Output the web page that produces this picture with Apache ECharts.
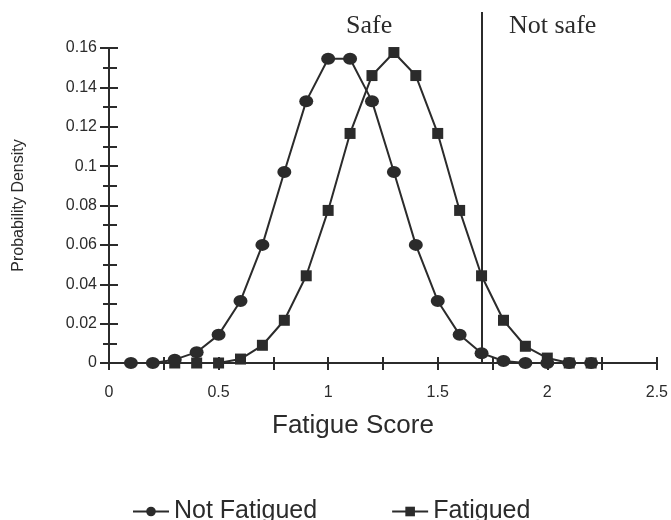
<!DOCTYPE html>
<html><head><meta charset="utf-8">
<script src="https://cdn.jsdelivr.net/npm/echarts@6/dist/echarts.min.js"></script>
<style>html,body{margin:0;padding:0;background:#fff}#c{width:671px;height:520px}</style>
</head><body><div id="c"></div>
<script>
const nfX = [0.1,0.2,0.3,0.4,0.5,0.6,0.7,0.8,0.9,1.0,1.1,1.2,1.3,1.4,1.5,1.6,1.7,1.8,1.9,2.0,2.1,2.2];
const notFatigued = [0,0,0.0017,0.0055,0.0143,0.0315,0.06,0.097,0.133,0.1545,0.1545,0.133,0.097,0.06,0.0315,0.0143,0.005,0.001,0,0,0,0];
const fX = [0.3,0.4,0.5,0.6,0.7,0.8,0.9,1.0,1.1,1.2,1.3,1.4,1.5,1.6,1.7,1.8,1.9,2.0,2.1,2.2];
const fatigued = [0,0,0,0.002,0.009,0.0217,0.0443,0.0775,0.1166,0.146,0.1577,0.146,0.1166,0.0775,0.0443,0.0217,0.0085,0.0025,0,0];
const threshold = 1.7;
const seriesNames = ['Not Fatigued','Fatigued'];
const zoneLabels = ['Safe','Not safe'];

const ink = '#2b2b2b';
const sans = 'Liberation Sans';
const pair = (xs, ys) => xs.map((x, i) => [x, ys[i]]);

const chart = echarts.init(document.getElementById('c'), null, {renderer:'canvas'});
const tickStyle = {color:ink, width:2};

chart.setOption({
  animation:false,
  backgroundColor:'#fff',
  grid:[
    {left:109, right:14, top:48, bottom:157},
    {left:109, right:14, top:12, bottom:157}
  ],
  title:[
    {text:zoneLabels[0], left:341, top:8, textStyle:{fontFamily:'Liberation Serif', fontSize:26, fontWeight:'normal', color:ink}},
    {text:zoneLabels[1], left:504, top:8, textStyle:{fontFamily:'Liberation Serif', fontSize:26, fontWeight:'normal', color:ink}}
  ],
  legend:{
    data:seriesNames, left:127, top:494, itemWidth:36, itemHeight:12, itemGap:74,
    textStyle:{fontFamily:sans, fontSize:25, color:ink}
  },
  xAxis:[
    {type:'value', gridIndex:0, min:0, max:2.5, interval:0.5,
     name:'Fatigue Score', nameLocation:'middle', nameGap:50,
     nameTextStyle:{fontFamily:sans, fontSize:26, color:ink, padding:[0,60,0,0]},
     axisLine:{lineStyle:{color:ink, width:2}},
     axisTick:{show:true, length:7, lineStyle:tickStyle},
     minorTick:{show:true, splitNumber:2, length:7, lineStyle:tickStyle},
     axisLabel:{fontFamily:sans, fontSize:16, color:ink, margin:22},
     splitLine:{show:false}},
    {type:'value', gridIndex:0, min:0, max:2.5, interval:0.5, position:'bottom',
     axisLine:{show:false},
     axisTick:{show:true, inside:true, length:6, lineStyle:tickStyle},
     minorTick:{show:true, splitNumber:2, length:6, lineStyle:tickStyle},
     axisLabel:{show:false}, splitLine:{show:false}},
    {type:'value', gridIndex:1, min:0, max:2.5, show:false}
  ],
  yAxis:[
    {type:'value', gridIndex:0, min:0, max:0.16, interval:0.02,
     name:'Probability Density', nameLocation:'middle', nameGap:82,
     nameTextStyle:{fontFamily:sans, fontSize:16, color:ink},
     axisLine:{show:true, lineStyle:{color:ink, width:2}},
     axisTick:{show:true, length:9, lineStyle:tickStyle},
     minorTick:{show:true, splitNumber:2, length:6, lineStyle:tickStyle},
     axisLabel:{fontFamily:sans, fontSize:16, color:ink, margin:12},
     splitLine:{show:false}},
    {type:'value', gridIndex:0, min:0, max:0.16, interval:0.02, position:'left', offset:0,
     axisLine:{show:false},
     axisTick:{show:true, inside:true, length:9, lineStyle:tickStyle},
     minorTick:{show:true, splitNumber:2, length:8, lineStyle:tickStyle},
     axisLabel:{show:false}, splitLine:{show:false}},
    {type:'value', gridIndex:1, min:0, max:1, show:false}
  ],
  series:[
    {name:seriesNames[0], type:'line', xAxisIndex:0, yAxisIndex:0,
     data:pair(nfX, notFatigued), symbol:'circle', symbolSize:[14,12],
     itemStyle:{color:ink}, lineStyle:{color:ink, width:2}, z:3},
    {name:seriesNames[1], type:'line', xAxisIndex:0, yAxisIndex:0,
     data:pair(fX, fatigued), symbol:'rect', symbolSize:11,
     itemStyle:{color:ink}, lineStyle:{color:ink, width:2}, z:4},
    {name:'threshold', type:'line', xAxisIndex:2, yAxisIndex:2, data:[],
     markLine:{silent:true, symbol:'none', label:{show:false},
       lineStyle:{color:ink, width:2, type:'solid'}, data:[{xAxis:threshold}]}}
  ]
});
</script></body></html>
